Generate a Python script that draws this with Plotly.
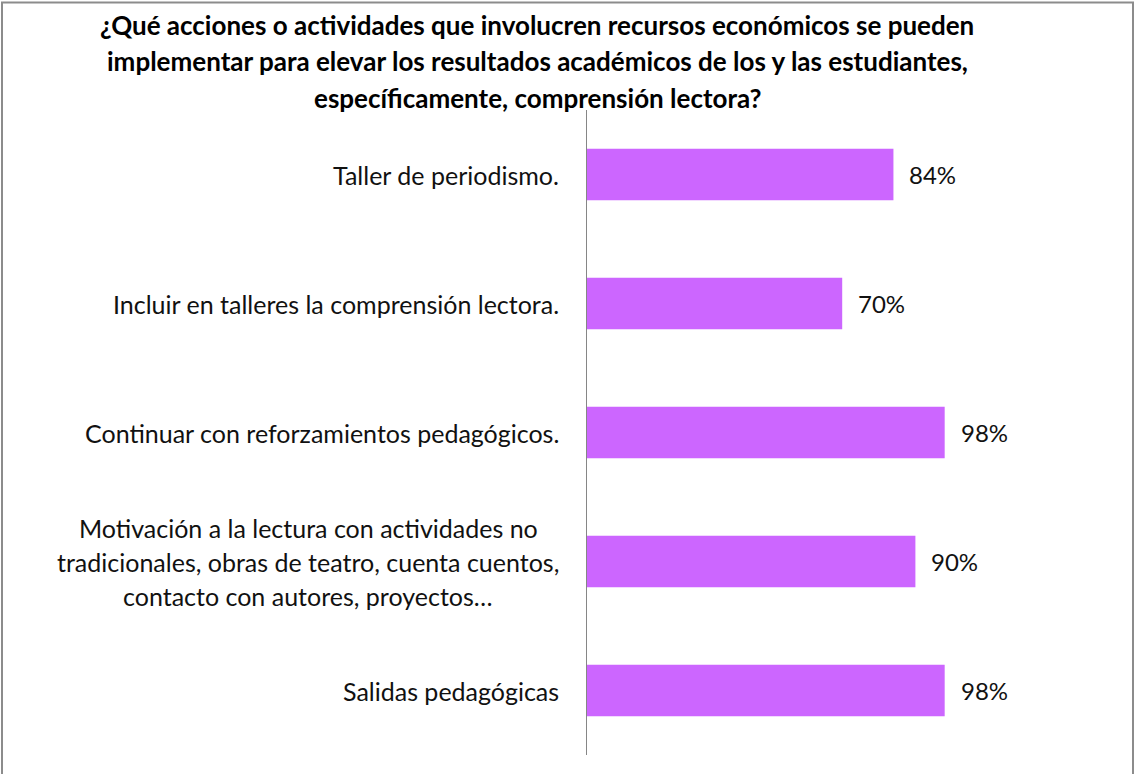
import plotly.graph_objects as go

C_BAR = '#cc66ff'
C_TEXT = '#111111'
C_AXIS = '#868686'
FONT = 'Lato, sans-serif'

categorias = [
    'Taller de periodismo.',
    'Incluir en talleres la comprensión lectora.',
    'Continuar con reforzamientos pedagógicos.',
    'Motivación a la lectura con actividades no<br>tradicionales, obras de teatro, cuenta cuentos,<br>contacto con autores, proyectos…',
    'Salidas pedagógicas',
]
valores = [0.84, 0.70, 0.98, 0.90, 0.98]
etiquetas = ['84%', '70%', '98%', '90%', '98%']
titulo = [
    '¿Qué acciones o actividades que involucren recursos económicos se pueden',
    'implementar para elevar los resultados académicos de los y las estudiantes,',
    'específicamente, comprensión lectora?',
]

# plot area in pixels
L, R, T, B = 586, 182, 110, 19
W, H = 1134, 774
PW, PH = W - L - R, H - T - B

fig = go.Figure(go.Bar(
    y=categorias, x=valores, orientation='h',
    marker=dict(color=C_BAR, line=dict(width=0)),
    hoverinfo='skip',
))

annotations = []
LINE = 34
for cat in categorias:
    lines = cat.split('<br>')
    n = len(lines)
    for i, ln in enumerate(lines):
        annotations.append(dict(
            x=0, y=cat, xref='x', yref='y', text=ln, showarrow=False,
            xanchor='center', yanchor='middle', xshift=-(L - 308),
            yshift=((n - 1) / 2 - i) * LINE,
            font=dict(family=FONT, size=25, color=C_TEXT),
        ) if n > 1 else dict(
            x=0, y=cat, xref='x', yref='y', text=ln, showarrow=False,
            xanchor='right', yanchor='middle', xshift=-25,
            font=dict(family=FONT, size=25, color=C_TEXT),
        ))
for cat, v, lbl in zip(categorias, valores, etiquetas):
    annotations.append(dict(
        x=v, y=cat, xref='x', yref='y', text=lbl, showarrow=False,
        xanchor='left', yanchor='middle', xshift=14,
        font=dict(family=FONT, size=24, color=C_TEXT),
    ))
for i, ln in enumerate(titulo):
    py = 25 + i * 36.5
    annotations.append(dict(
        x=(537 - L) / PW, y=(H - B - py) / PH, xref='paper', yref='paper',
        text='<b>' + ln + '</b>', showarrow=False,
        xanchor='center', yanchor='middle',
        font=dict(family=FONT, size=26, color='#000000'),
    ))

fig.update_layout(
    width=W, height=H,
    paper_bgcolor='white', plot_bgcolor='white',
    margin=dict(l=L, r=R, t=T, b=B),
    showlegend=False, bargap=0.6,
    xaxis=dict(range=[0, 1], visible=False, fixedrange=True),
    yaxis=dict(autorange='reversed', showticklabels=False, ticks='',
               showgrid=False, zeroline=False, showline=False),
    annotations=annotations,
    shapes=[
        dict(type='line', xref='x', yref='paper', x0=0, x1=0, y0=0, y1=1,
             line=dict(color=C_AXIS, width=2)),
        dict(type='rect', xref='paper', yref='paper',
             x0=(2 - L) / PW, x1=(1133 - L) / PW,
             y0=(H - B - 780) / PH, y1=(H - B - 2.5) / PH,
             line=dict(color='#8c8c8c', width=2)),
    ],
)

fig.write_html('out.html', config=dict(displayModeBar=False),
               post_script="document.body.style.margin='0';"
                           "document.body.style.overflow='hidden';")
